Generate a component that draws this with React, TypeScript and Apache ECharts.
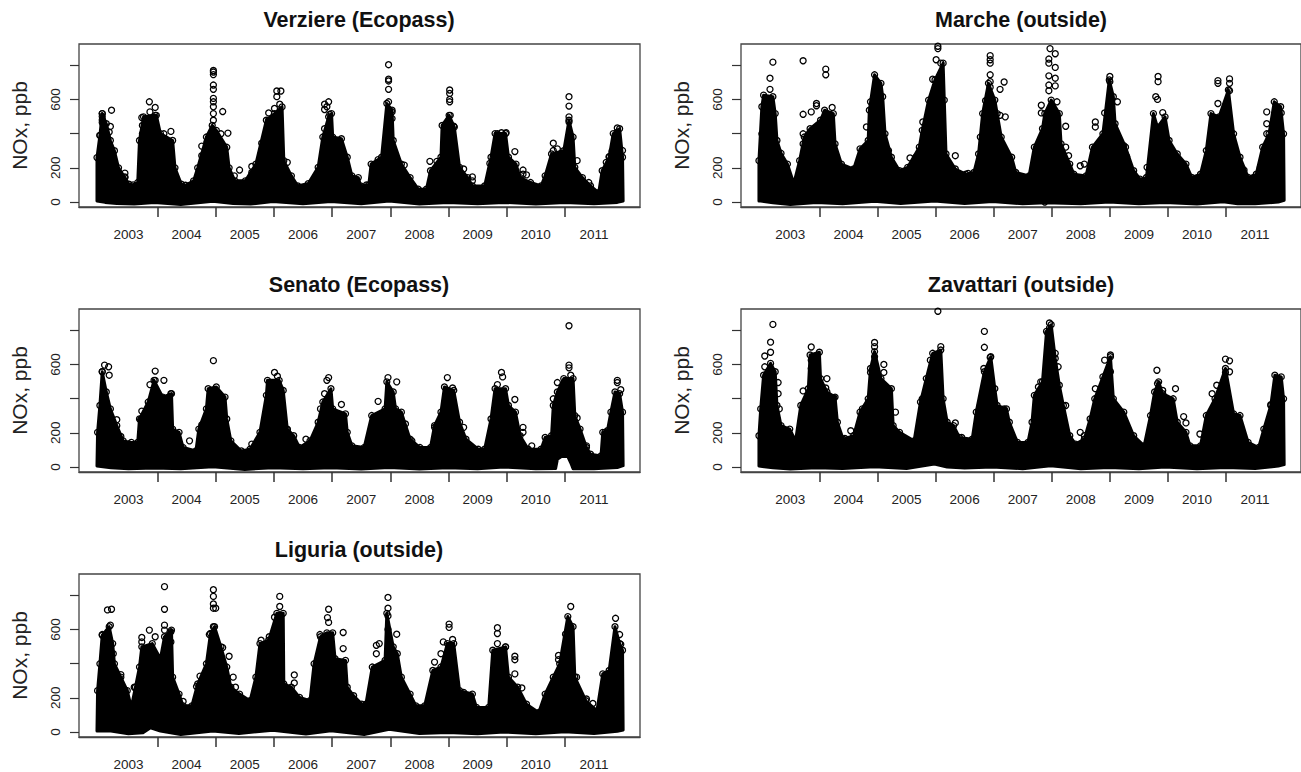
import React, { useEffect, useRef } from "react";
import * as echarts from "echarts";

type Pt = [number, number];

const panelTitles = ["Verziere (Ecopass)", "Marche (outside)", "Senato (Ecopass)", "Zavattari (outside)", "Liguria (outside)"];
const yLabel = "NOx, ppb";
const xTickYears = [2004, 2005, 2006, 2007, 2008, 2009, 2010, 2011];
const xLabelYears = [2003.5, 2004.5, 2005.5, 2006.5, 2007.5, 2008.5, 2009.5, 2010.5, 2011.5];
const yTicks = [0, 200, 400, 600, 800];
const yTickLabels = [0, 200, 600];

const verziereTop: Pt[] = [[2002.96,6],[2002.96,260],[2003.01,390],[2003.05,517],[2003.12,458],[2003.19,360],[2003.26,300],[2003.33,200],[2003.44,143],[2003.51,104],[2003.58,100],[2003.66,114],[2003.69,360],[2003.76,498],[2003.98,507],[2004.05,400],[2004.26,360],[2004.3,200],[2004.41,104],[2004.48,98],[2004.62,124],[2004.69,200],[2004.84,380],[2004.94,448],[2005.01,419],[2005.19,320],[2005.23,200],[2005.33,124],[2005.51,124],[2005.69,222],[2005.87,478],[2006.01,517],[2006.14,556],[2006.17,242],[2006.3,153],[2006.41,94],[2006.59,108],[2006.76,203],[2006.84,380],[2006.94,498],[2006.99,517],[2007.01,380],[2007.16,370],[2007.26,262],[2007.34,153],[2007.45,143],[2007.49,94],[2007.59,100],[2007.63,100],[2007.67,222],[2007.85,262],[2007.94,576],[2008.03,537],[2008.05,360],[2008.19,222],[2008.34,143],[2008.48,75],[2008.62,75],[2008.69,183],[2008.87,262],[2008.89,448],[2009.01,507],[2009.1,438],[2009.19,203],[2009.33,143],[2009.41,94],[2009.62,94],[2009.73,262],[2009.8,400],[2009.98,400],[2010.03,262],[2010.16,222],[2010.23,143],[2010.41,114],[2010.59,94],[2010.66,153],[2010.77,281],[2010.98,300],[2011.07,478],[2011.14,380],[2011.17,203],[2011.3,143],[2011.44,94],[2011.58,55],[2011.64,183],[2011.76,262],[2011.83,400],[2011.94,429],[2011.99,262],[2012,6]];
const verziereLow: Pt[] = [[2002.96,6],[2003.1,-2],[2003.3,-8],[2003.6,-12],[2003.95,-3],[2004.4,-14],[2004.95,4],[2005.3,-8],[2005.6,-12],[2005.98,3],[2006.5,-10],[2006.98,3],[2007.5,-10],[2007.98,6],[2008.5,-12],[2008.99,-3],[2009.5,-10],[2009.95,-2],[2010.5,-12],[2011,-2],[2011.5,-10],[2011.9,-2],[2012,6]];
const verziereOut: Pt[] = [[2003.21,537],[2003.05,517],[2003.05,500],[2003.05,480],[2003.05,465],[2003.07,448],[2003.19,442],[2003.01,389],[2003.17,409],[2003.44,169],[2003.44,147],[2003.86,586],[2003.73,494],[2003.74,448],[2003.87,527],[2003.96,553],[2003.96,507],[2003.74,399],[2004.11,399],[2004.23,413],[2004.12,360],[2004.96,769],[2004.96,760],[2004.96,745],[2004.96,684],[2004.96,659],[2004.96,606],[2004.96,586],[2004.96,557],[2004.96,517],[2004.96,478],[2005.12,529],[2005.21,403],[2005.09,399],[2004.76,327],[2004.85,350],[2004.76,271],[2005.41,187],[2005.32,153],[2005.62,208],[2005.62,173],[2005.79,344],[2005.79,301],[2005.91,521],[2005.91,478],[2006.05,616],[2006.05,649],[2006.12,649],[2006.1,572],[2006.01,547],[2006.23,232],[2006.94,586],[2006.87,572],[2006.87,541],[2006.91,557],[2006.96,513],[2006.87,429],[2007.97,803],[2007.97,718],[2007.97,708],[2007.97,659],[2007.97,586],[2008.03,527],[2008.03,488],[2007.79,248],[2007.81,222],[2008.24,216],[2008.68,238],[2008.8,238],[2009.02,655],[2009.02,635],[2009.02,600],[2009.02,586],[2009.03,507],[2009.09,443],[2009.26,193],[2009.41,147],[2009.41,124],[2009.71,226],[2009.84,399],[2009.91,405],[2009.99,405],[2009.84,360],[2010.14,295],[2010.28,187],[2010.28,163],[2010.34,159],[2010.8,344],[2010.8,301],[2010.87,311],[2011.07,616],[2011.07,561],[2011.07,498],[2011.07,468],[2011.21,242],[2011.41,114],[2011.9,433],[2011.9,409],[2011.71,232],[2011.76,266],[2011.81,297],[2011.99,301]];

const marcheTop: Pt[] = [[2002.96,6],[2002.96,242],[2003.01,557],[2003.04,625],[2003.2,616],[2003.24,517],[2003.27,360],[2003.34,285],[2003.45,222],[2003.56,108],[2003.66,242],[2003.74,380],[2003.84,429],[2004.02,478],[2004.09,537],[2004.24,517],[2004.27,340],[2004.38,222],[2004.59,193],[2004.7,311],[2004.84,360],[2004.86,537],[2004.95,744],[2005.06,694],[2005.09,616],[2005.13,399],[2005.24,262],[2005.38,183],[2005.52,203],[2005.72,321],[2005.77,419],[2005.88,596],[2005.99,714],[2006.13,812],[2006.15,596],[2006.18,281],[2006.34,193],[2006.52,163],[2006.66,173],[2006.74,281],[2006.81,517],[2006.91,694],[2007.02,596],[2007.06,517],[2007.13,380],[2007.31,262],[2007.38,173],[2007.61,153],[2007.7,321],[2007.84,429],[2007.88,517],[2007.99,596],[2008.13,517],[2008.16,340],[2008.31,222],[2008.38,163],[2008.59,153],[2008.7,321],[2008.88,399],[2008.99,714],[2009.06,616],[2009.09,458],[2009.27,321],[2009.41,183],[2009.52,134],[2009.63,144],[2009.75,517],[2009.82,438],[2009.95,498],[2010.02,360],[2010.16,281],[2010.31,222],[2010.41,144],[2010.56,163],[2010.66,301],[2010.74,517],[2010.88,498],[2011.04,655],[2011.13,399],[2011.24,262],[2011.38,144],[2011.52,163],[2011.63,321],[2011.74,399],[2011.83,586],[2011.94,557],[2011.99,399],[2012,10]];
const marcheLow: Pt[] = [[2002.96,8],[2003.2,-4],[2003.5,-14],[2003.95,-2],[2004.4,-10],[2004.95,5],[2005.4,-8],[2005.98,6],[2006.5,-8],[2006.98,3],[2007.5,-10],[2007.9,-4],[2008.5,-10],[2008.99,0],[2009.5,-10],[2009.95,-2],[2010.5,-12],[2010.95,2],[2011.2,-10],[2011.5,-10],[2011.9,0],[2012,10]];
const marcheOut: Pt[] = [[2003.2,818],[2003.15,724],[2003.15,659],[2003.06,566],[2003.01,399],[2003.72,826],[2003.72,513],[2003.72,399],[2003.72,340],[2003.86,527],[2003.95,576],[2003.95,563],[2004.11,777],[2004.11,744],[2004.22,553],[2004.81,439],[2004.88,586],[2005.19,301],[2005.56,258],[2005.66,262],[2005.78,468],[2006.01,832],[2006.04,911],[2006.04,897],[2006.09,812],[2005.95,718],[2006.77,380],[2006.34,271],[2006.56,167],[2006.94,856],[2006.94,832],[2006.94,812],[2006.94,744],[2006.94,704],[2006.94,671],[2006.86,592],[2007.18,702],[2007.11,659],[2007.11,507],[2007.2,498],[2007.97,897],[2008.06,867],[2007.95,836],[2007.95,812],[2008.06,787],[2007.95,738],[2008.06,724],[2007.95,684],[2008.06,679],[2007.95,651],[2008.09,586],[2007.82,566],[2007.82,521],[2008.24,443],[2007.88,0],[2008.24,321],[2008.29,271],[2008.49,212],[2008.56,222],[2008.75,468],[2008.75,439],[2008.91,521],[2009,734],[2009,704],[2009.13,586],[2009.24,330],[2009.29,266],[2009.83,734],[2009.83,704],[2009.79,616],[2009.82,600],[2009.91,523],[2009.64,203],[2010.86,710],[2010.86,694],[2010.86,576],[2011.06,720],[2011.06,694],[2011.06,651],[2011.7,527],[2011.7,458],[2011.7,399],[2011.95,521],[2011.31,187],[2011.59,203]];

const senatoTop: Pt[] = [[2002.96,6],[2002.97,203],[2003.01,360],[2003.05,557],[2003.12,439],[2003.19,340],[2003.3,242],[2003.41,153],[2003.55,144],[2003.66,144],[2003.69,281],[2003.84,380],[2003.94,507],[2004.09,409],[2004.24,429],[2004.26,222],[2004.37,203],[2004.44,114],[2004.66,94],[2004.71,222],[2004.84,340],[2004.87,458],[2005.01,468],[2005.16,409],[2005.19,281],[2005.26,153],[2005.44,94],[2005.59,104],[2005.76,203],[2005.87,419],[2005.89,507],[2006.09,507],[2006.16,448],[2006.23,222],[2006.34,183],[2006.44,114],[2006.62,153],[2006.76,262],[2006.84,380],[2006.98,458],[2007.01,340],[2007.23,311],[2007.26,203],[2007.34,124],[2007.55,114],[2007.68,301],[2007.91,340],[2007.94,498],[2008.05,439],[2008.09,340],[2008.19,321],[2008.34,163],[2008.51,114],[2008.69,114],[2008.76,242],[2008.87,321],[2008.93,468],[2009.09,448],[2009.19,262],[2009.3,163],[2009.51,104],[2009.62,104],[2009.73,281],[2009.8,458],[2009.98,458],[2010.03,360],[2010.15,321],[2010.23,183],[2010.37,104],[2010.59,104],[2010.66,173],[2010.77,183],[2010.8,360],[2010.87,439],[2010.98,517],[2011.14,517],[2011.17,301],[2011.26,222],[2011.37,114],[2011.44,75],[2011.62,65],[2011.65,203],[2011.73,212],[2011.79,321],[2011.86,439],[2011.94,429],[2011.99,321],[2012,8]];
const senatoLow: Pt[] = [[2002.96,6],[2003.2,-4],[2003.5,-10],[2003.95,-6],[2004.4,-10],[2004.95,2],[2005.5,-14],[2005.98,-4],[2006.5,-10],[2006.98,-4],[2007.5,-12],[2007.98,-2],[2008.5,-12],[2008.99,-4],[2009.5,-10],[2009.95,0],[2010.5,-10],[2010.84,-8],[2010.87,45],[2010.94,61],[2011.05,61],[2011.1,25],[2011.14,-10],[2011.5,-10],[2011.9,-3],[2012,8]];
const senatoOut: Pt[] = [[2011.07,826],[2004.96,622],[2003.09,596],[2003.16,586],[2003.05,557],[2003.17,537],[2003.96,561],[2003.87,482],[2003.96,507],[2004.11,507],[2004.23,429],[2003.73,327],[2003.71,277],[2003.3,277],[2003.37,179],[2004.55,153],[2004.76,246],[2006.01,553],[2006.06,531],[2005.62,134],[2006.23,218],[2006.55,163],[2006.94,523],[2006.91,507],[2006.8,340],[2006.87,429],[2007.16,366],[2007.79,384],[2007.96,523],[2008.11,498],[2008.26,252],[2008.37,153],[2008.98,523],[2009.07,462],[2009.26,232],[2008.76,232],[2009.91,553],[2009.93,527],[2009.84,482],[2010.14,395],[2010.28,232],[2010.28,203],[2010.43,124],[2010.87,494],[2010.8,399],[2011.07,596],[2011.07,580],[2011.1,537],[2011.21,287],[2011.37,124],[2011.9,507],[2011.9,494],[2011.96,452],[2011.69,203]];

const zavattariTop: Pt[] = [[2002.96,6],[2002.96,183],[2002.99,340],[2003.04,537],[2003.16,606],[2003.24,557],[2003.27,360],[2003.34,242],[2003.49,222],[2003.59,153],[2003.68,360],[2003.81,458],[2003.84,655],[2004,671],[2004.02,517],[2004.13,439],[2004.27,409],[2004.31,262],[2004.41,163],[2004.59,183],[2004.7,321],[2004.84,399],[2004.88,576],[2004.95,675],[2005.06,517],[2005.24,458],[2005.27,242],[2005.38,203],[2005.63,153],[2005.74,380],[2005.84,517],[2005.95,665],[2006.09,684],[2006.13,399],[2006.2,262],[2006.31,242],[2006.41,173],[2006.63,163],[2006.7,321],[2006.84,557],[2006.95,645],[2007.02,458],[2007.06,360],[2007.22,340],[2007.27,262],[2007.41,144],[2007.59,144],[2007.66,262],[2007.7,419],[2007.84,498],[2007.91,793],[2007.99,832],[2008.06,635],[2008.13,478],[2008.2,360],[2008.31,183],[2008.41,134],[2008.56,163],[2008.66,281],[2008.74,399],[2008.88,527],[2009.01,645],[2009.06,399],[2009.24,321],[2009.41,183],[2009.59,124],[2009.7,301],[2009.77,439],[2009.84,498],[2009.91,429],[2010.09,399],[2010.16,262],[2010.31,203],[2010.38,124],[2010.56,124],[2010.66,301],[2010.81,399],[2010.99,576],[2011.13,311],[2011.24,301],[2011.38,144],[2011.56,114],[2011.65,222],[2011.77,360],[2011.84,537],[2011.95,527],[2011.99,399],[2012,14]];
const zavattariLow: Pt[] = [[2002.96,6],[2003.2,-4],[2003.5,-12],[2003.95,-4],[2004.4,-8],[2004.95,2],[2005.5,-8],[2005.98,18],[2006.2,0],[2006.5,-6],[2006.98,0],[2007.5,-10],[2007.98,8],[2008.5,-10],[2008.99,-2],[2009.5,-10],[2009.95,0],[2010.5,-10],[2011,-2],[2011.5,-8],[2011.9,6],[2012,14]];
const zavattariOut: Pt[] = [[2003.2,834],[2003.16,730],[2003.16,671],[2003.06,649],[2003.06,586],[2003.29,494],[2003.29,429],[2003.31,340],[2003.86,702],[2003.86,625],[2003.86,576],[2003.72,445],[2004.13,517],[2004.11,462],[2004.25,405],[2004.44,167],[2004.54,212],[2004.74,340],[2004.95,728],[2004.95,704],[2004.95,645],[2005.11,600],[2005.11,553],[2004.88,553],[2005.31,321],[2005.77,399],[2005.91,625],[2006.04,911],[2006.09,704],[2006.34,258],[2006.25,232],[2006.45,173],[2006.84,793],[2006.84,700],[2006.94,641],[2006.83,576],[2006.77,360],[2007.18,340],[2007.96,842],[2007.96,812],[2007.93,783],[2007.96,734],[2008.06,665],[2008.11,586],[2007.77,468],[2007.81,498],[2008.24,360],[2008.49,203],[2008.56,183],[2008.75,458],[2008.91,625],[2009.01,655],[2009.01,557],[2009.81,566],[2009.82,488],[2010.13,458],[2009.91,448],[2010.27,295],[2010.31,258],[2010.55,193],[2010.76,429],[2010.84,478],[2010.99,631],[2011.06,621],[2010.99,553],[2011.06,557],[2011.77,364]];

const liguriaTop: Pt[] = [[2002.96,6],[2002.97,242],[2003.01,399],[2003.05,566],[2003.17,616],[2003.23,517],[2003.26,399],[2003.37,321],[2003.48,242],[2003.55,144],[2003.62,262],[2003.69,380],[2003.73,498],[2003.91,517],[2004.05,429],[2004.12,557],[2004.24,596],[2004.26,321],[2004.37,222],[2004.44,153],[2004.59,153],[2004.69,281],[2004.84,399],[2004.91,576],[2004.98,616],[2005.09,498],[2005.19,380],[2005.26,262],[2005.41,222],[2005.59,183],[2005.69,321],[2005.76,517],[2005.91,537],[2006.05,694],[2006.16,694],[2006.17,281],[2006.3,262],[2006.44,203],[2006.62,183],[2006.69,399],[2006.8,557],[2006.91,580],[2007.01,580],[2007.05,429],[2007.23,419],[2007.26,262],[2007.37,212],[2007.51,163],[2007.58,163],[2007.69,380],[2007.91,419],[2007.94,694],[2008.05,498],[2008.12,458],[2008.19,321],[2008.34,222],[2008.44,153],[2008.59,153],[2008.73,360],[2008.87,380],[2008.98,517],[2009.09,517],[2009.19,242],[2009.41,222],[2009.48,144],[2009.69,144],[2009.76,478],[2009.98,498],[2010.03,321],[2010.19,262],[2010.34,163],[2010.55,114],[2010.66,222],[2010.8,321],[2010.91,399],[2011.05,675],[2011.14,616],[2011.17,321],[2011.36,183],[2011.55,124],[2011.65,340],[2011.76,360],[2011.86,616],[2011.94,517],[2011.99,478],[2012,12]];
const liguriaLow: Pt[] = [[2002.96,8],[2003.2,6],[2003.5,-10],[2003.75,-4],[2003.88,25],[2004.05,6],[2004.4,-14],[2004.95,6],[2005.4,-8],[2005.98,10],[2006.55,-12],[2006.98,8],[2007.55,-14],[2007.98,16],[2008.5,-8],[2008.99,-2],[2009.5,-10],[2009.95,0],[2010.5,-10],[2011,2],[2011.5,-8],[2011.9,4],[2012,12]];
const liguriaOut: Pt[] = [[2003.21,718],[2003.14,714],[2003.19,625],[2003.05,570],[2003.24,458],[2003.37,336],[2003.44,246],[2003.6,262],[2003.73,553],[2003.73,527],[2003.86,596],[2003.96,557],[2004.12,850],[2004.12,718],[2004.12,625],[2004.12,596],[2004.23,586],[2004.23,527],[2004.44,179],[2004.73,327],[2004.67,266],[2004.96,832],[2004.96,793],[2004.96,749],[2004.96,724],[2005,724],[2004.96,616],[2004.89,570],[2005.12,494],[2005.23,443],[2005.3,321],[2005.34,262],[2005.78,537],[2005.92,557],[2006.01,671],[2006.1,793],[2006.1,734],[2006.35,334],[2006.35,287],[2006.79,570],[2006.94,718],[2006.92,669],[2006.94,641],[2007.19,582],[2007.19,488],[2007.76,507],[2007.76,458],[2007.81,517],[2007.96,787],[2007.96,724],[2007.96,679],[2007.96,600],[2008.11,572],[2008.76,409],[2008.87,458],[2008.91,527],[2009.01,631],[2009.01,612],[2009.07,541],[2009.26,232],[2009.84,610],[2009.84,576],[2009.84,517],[2009.98,498],[2010.14,443],[2010.14,423],[2010.14,340],[2010.26,258],[2010.89,448],[2010.89,423],[2011.01,572],[2011.1,734],[2011.2,321],[2011.37,193],[2011.48,167],[2011.87,665],[2011.94,570],[2011.96,513]];

const tops = [verziereTop, marcheTop, senatoTop, zavattariTop, liguriaTop];
const lows = [verziereLow, marcheLow, senatoLow, zavattariLow, liguriaLow];
const outliers = [verziereOut, marcheOut, senatoOut, zavattariOut, liguriaOut];

const gridPos = [
  { left: 79, top: 44 },
  { left: 741, top: 44 },
  { left: 79, top: 309 },
  { left: 741, top: 309 },
  { left: 79, top: 574 },
];
const GW = 561;
const GH = 163;
const YMIN = -29;
const FONT = "'Liberation Sans', Arial, sans-serif";

function makeOption() {
  const grids: any[] = [];
  const xAxes: any[] = [];
  const yAxes: any[] = [];
  const series: any[] = [];
  const titles: any[] = [];
  panelTitles.forEach((name, i) => {
    const p = gridPos[i];
    grids.push({ left: p.left, top: p.top, width: GW, height: GH, show: true, borderColor: "#444", borderWidth: 1.3, backgroundColor: "transparent" });
    titles.push({
      text: name,
      left: p.left + 275,
      top: p.top - 40,
      textAlign: "center",
      textStyle: { fontFamily: FONT, fontWeight: "bold", fontSize: 21.5, color: "#111" },
    });
    xAxes.push({
      type: "value", gridIndex: i, min: 2002.651, max: 2012.29,
      splitLine: { show: false },
      axisLine: { show: true, onZero: false, lineStyle: { color: "#444", width: 1.3 } },
      axisTick: { show: true, length: 10, customValues: xTickYears, lineStyle: { color: "#333", width: 1.5 } },
      axisLabel: {
        show: true, customValues: xLabelYears, margin: 20,
        formatter: (v: number) => String(Math.floor(v)),
        fontFamily: FONT, fontSize: 13.5, color: "#222",
      },
    });
    yAxes.push({
      type: "value", gridIndex: i, min: YMIN, max: 924,
      splitLine: { show: false }, axisLine: { show: false },
      axisTick: { show: true, length: 9, customValues: yTicks, lineStyle: { color: "#333", width: 1.2 } },
      axisLabel: { show: true, customValues: yTickLabels, rotate: 90, margin: 17, fontFamily: FONT, fontSize: 13.5, color: "#222" },
      name: yLabel, nameLocation: "middle", nameGap: 49, nameRotate: 90,
      nameTextStyle: { fontFamily: FONT, fontSize: 21, color: "#222" },
    });
    const top = tops[i];
    const low = lows[i];
    series.push({
      type: "custom", xAxisIndex: i, yAxisIndex: i, data: top, clip: true, silent: true,
      renderItem: (params: any, api: any) => {
        if (params.dataIndex !== 0) return null;
        const pts = top.concat(low.slice().reverse()).map((d) => api.coord(d));
        return { type: "polygon", shape: { points: pts }, style: { fill: "#000", stroke: "#000", lineWidth: 3, lineJoin: "round" } };
      },
    });
    series.push({
      type: "scatter", xAxisIndex: i, yAxisIndex: i, data: outliers[i].concat(top.slice(1, -1)), symbol: "circle", symbolSize: 6, silent: true,
      itemStyle: { color: "transparent", borderColor: "#000", borderWidth: 1.3, opacity: 1 },
    });
  });
  return { animation: false, backgroundColor: "#fff", title: titles, grid: grids, xAxis: xAxes, yAxis: yAxes, series };
}

export default function App() {
  const ref = useRef<HTMLDivElement>(null);
  useEffect(() => {
    const chart = echarts.init(ref.current!, undefined, { renderer: "svg" });
    chart.setOption(makeOption());
    return () => chart.dispose();
  }, []);
  return <div ref={ref} style={{ position: "absolute", left: 0, top: 0, width: 1301, height: 772 }} />;
}
